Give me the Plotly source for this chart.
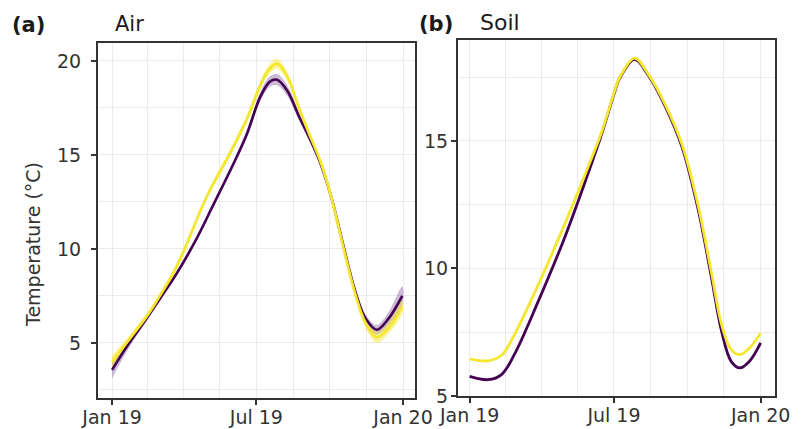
import plotly.graph_objects as go

# ---------------- data ----------------
air_purple_dates = ["2019-01-01", "2019-01-21", "2019-02-15", "2019-03-02", "2019-03-21",
                    "2019-04-14", "2019-05-08", "2019-06-02", "2019-06-19", "2019-07-06",
                    "2019-07-18", "2019-07-27", "2019-08-09", "2019-08-23", "2019-09-05",
                    "2019-09-19", "2019-10-03", "2019-10-18", "2019-11-02", "2019-11-15",
                    "2019-11-29", "2019-12-14", "2019-12-31"]
air_purple = [3.56, 4.9, 6.4, 7.35, 8.55, 10.3, 12.34, 14.5, 16.1, 18.1, 18.9, 19.0,
              18.4, 17.1, 15.95, 14.6, 12.75, 10.2, 7.75, 6.3, 5.7, 6.3, 7.5]
air_purple_se = [0.45, 0.25, 0.15, 0.12, 0.12, 0.12, 0.12, 0.15, 0.2, 0.25, 0.28, 0.3,
                 0.28, 0.22, 0.15, 0.12, 0.12, 0.12, 0.15, 0.2, 0.25, 0.35, 0.5]

air_yellow_dates = ["2019-01-01", "2019-01-21", "2019-02-15", "2019-03-02", "2019-03-21",
                    "2019-04-02", "2019-04-30", "2019-05-29", "2019-06-19", "2019-07-06",
                    "2019-07-16", "2019-07-27", "2019-08-09", "2019-08-23", "2019-09-05",
                    "2019-09-19", "2019-10-03", "2019-10-18", "2019-11-02", "2019-11-15",
                    "2019-11-29", "2019-12-14", "2019-12-31"]
air_yellow = [4.0, 5.1, 6.5, 7.5, 8.9, 10.0, 12.8, 15.1, 16.9, 18.7, 19.5, 19.85,
              19.15, 17.55, 16.15, 14.7, 12.75, 10.1, 7.6, 6.05, 5.3, 5.8, 6.9]
air_yellow_se = [0.35, 0.2, 0.15, 0.15, 0.15, 0.15, 0.15, 0.18, 0.2, 0.22, 0.25, 0.28,
                 0.25, 0.2, 0.15, 0.12, 0.12, 0.15, 0.2, 0.25, 0.3, 0.3, 0.35]

soil_dates = ["2019-01-01", "2019-01-24", "2019-02-10", "2019-02-26", "2019-03-28",
              "2019-04-30", "2019-05-29", "2019-06-15", "2019-07-02", "2019-07-08",
              "2019-07-27", "2019-08-13", "2019-09-03", "2019-09-24", "2019-10-14",
              "2019-10-31", "2019-11-13", "2019-11-25", "2019-12-06", "2019-12-18",
              "2020-01-01"]
soil_purple = [5.77, 5.64, 5.84, 6.62, 8.71, 11.2, 13.68, 15.22, 16.93, 17.45, 18.2, 17.58,
               16.38, 14.8, 12.4, 9.7, 7.54, 6.36, 6.1, 6.36, 7.08]
soil_yellow = [6.46, 6.38, 6.6, 7.4, 9.36, 11.72, 13.94, 15.3, 16.97, 17.48, 18.25, 17.62,
               16.45, 14.9, 12.55, 9.89, 7.8, 6.82, 6.62, 6.88, 7.47]

tick_vals = ["2019-01-01", "2019-07-01", "2020-01-01"]
tick_text = ["Jan 19", "Jul 19", "Jan 20"]
minor_x = ["2019-02-15", "2019-04-01", "2019-05-16", "2019-08-16", "2019-10-01", "2019-11-16"]

PURPLE = "#440154"
YELLOW = "#F4E730"
FONT = "DejaVu Sans"
W, H = 805, 429

fig = go.Figure()


def ribbon(dates, vals, se, color, xa, ya):
    upper = [v + s for v, s in zip(vals, se)]
    lower = [v - s for v, s in zip(vals, se)]
    fig.add_trace(go.Scatter(x=dates + dates[::-1], y=upper + lower[::-1], fill="toself",
                             fillcolor=color, line=dict(width=0, shape="spline"), mode="lines",
                             hoverinfo="skip", showlegend=False, xaxis=xa, yaxis=ya))


ribbon(air_purple_dates, air_purple, air_purple_se, "rgba(110,60,140,0.35)", "x", "y")
ribbon(air_yellow_dates, air_yellow, air_yellow_se, "rgba(245,230,40,0.45)", "x", "y")
fig.add_trace(go.Scatter(x=air_purple_dates, y=air_purple, mode="lines",
                         line=dict(color=PURPLE, width=2.6, shape="spline", smoothing=1.0),
                         showlegend=False, xaxis="x", yaxis="y"))
fig.add_trace(go.Scatter(x=air_yellow_dates, y=air_yellow, mode="lines",
                         line=dict(color=YELLOW, width=2.8, shape="spline", smoothing=1.0),
                         showlegend=False, xaxis="x", yaxis="y"))
fig.add_trace(go.Scatter(x=soil_dates, y=soil_purple, mode="lines",
                         line=dict(color=PURPLE, width=2.8, shape="spline"),
                         showlegend=False, xaxis="x2", yaxis="y2"))
fig.add_trace(go.Scatter(x=soil_dates, y=soil_yellow, mode="lines",
                         line=dict(color=YELLOW, width=2.8, shape="spline"),
                         showlegend=False, xaxis="x2", yaxis="y2"))

GRID = "#EBEBEB"
AXLINE = "#333333"


def xaxis(domain, rng, anchor):
    return dict(domain=domain, range=rng, type="date", anchor=anchor, automargin=False,
                tickmode="array", tickvals=tick_vals, ticktext=tick_text,
                ticks="outside", ticklen=5, tickwidth=1.5, tickcolor=AXLINE,
                ticklabelstandoff=-4,
                tickfont=dict(family=FONT, size=19, color="#333333"),
                showline=True, linecolor=AXLINE, linewidth=1.6, mirror=True,
                showgrid=True, gridcolor=GRID, gridwidth=1, zeroline=False,
                minor=dict(tickvals=minor_x, showgrid=True, gridcolor=GRID, gridwidth=1, ticks=""))


def yaxis(domain, rng, anchor, tvals, mvals, standoff):
    return dict(domain=domain, range=rng, anchor=anchor, automargin=False,
                tickmode="array", tickvals=tvals, ticktext=[str(v) for v in tvals],
                ticks="outside", ticklen=5, tickwidth=1.5, tickcolor=AXLINE,
                ticklabelstandoff=standoff,
                tickfont=dict(family=FONT, size=19, color="#333333"),
                showline=True, linecolor=AXLINE, linewidth=1.6, mirror=True,
                showgrid=True, gridcolor=GRID, gridwidth=1, zeroline=False,
                minor=dict(tickvals=mvals, showgrid=True, gridcolor=GRID, gridwidth=1, ticks=""))


fig.update_layout(
    width=W, height=H, margin=dict(l=0, r=0, t=0, b=0),
    paper_bgcolor="white", plot_bgcolor="white",
    xaxis=xaxis([97.7 / W, 415 / W], ["2018-12-14", "2020-01-16"], "y"),
    yaxis=yaxis([1 - 398.3 / H, 1 - 42.7 / H], [2.05, 20.97], "x", [5, 10, 15, 20],
                [2.5, 7.5, 12.5, 17.5], 6),
    xaxis2=xaxis([457.7 / W, 775 / W], ["2018-12-17", "2020-01-19"], "y2"),
    yaxis2=yaxis([1 - 396 / H, 1 - 40 / H], [5.0, 18.96], "x2", [5, 10, 15],
                 [7.5, 12.5, 17.5], -1),
)

ann = [
    dict(text="<b>(a)</b>", x=10 / W, y=1 - 25 / H, size=21),
    dict(text="Air", x=113 / W, y=1 - 24 / H, size=21),
    dict(text="<b>(b)</b>", x=417 / W, y=1 - 24 / H, size=21),
    dict(text="Soil", x=478 / W, y=1 - 23 / H, size=22),
]
for a in ann:
    fig.add_annotation(text=a["text"], x=a["x"], y=a["y"], xref="paper", yref="paper",
                       xanchor="left", yanchor="middle", showarrow=False,
                       font=dict(family=FONT, size=a["size"], color="#1a1a1a"))
fig.add_annotation(text="Temperature (°C)", x=33 / W, y=1 - 245 / H, xref="paper", yref="paper",
                   xanchor="center", yanchor="middle", textangle=-90, showarrow=False,
                   font=dict(family=FONT, size=19, color="#333333"))

fig.write_html("out.html")
